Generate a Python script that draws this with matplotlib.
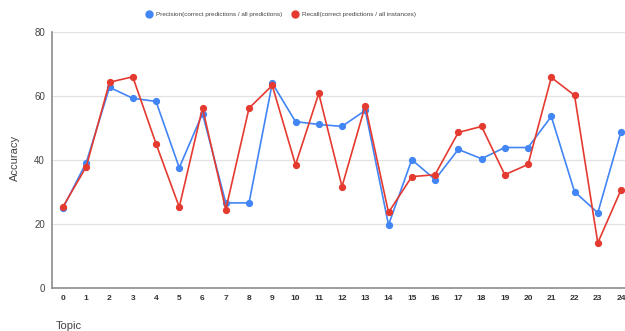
import matplotlib
matplotlib.use("Agg")
import matplotlib.pyplot as plt
from matplotlib.lines import Line2D

plt.rcParams['font.family'] = ['Liberation Sans', 'DejaVu Sans']

topics = list(range(25))
precision = [25.0, 39.2, 62.7, 59.3, 58.3, 37.6, 54.5, 26.6, 26.6, 64.0,
             52.0, 51.1, 50.5, 55.5, 19.7, 40.1, 33.9, 43.3, 40.4, 43.9,
             43.9, 53.6, 30.1, 23.5, 48.9]
recall = [25.4, 37.9, 64.3, 66.0, 45.1, 25.3, 56.3, 24.5, 56.2, 63.3,
          38.5, 60.8, 31.7, 57.0, 23.6, 34.8, 35.4, 48.6, 50.5, 35.4,
          38.6, 65.8, 60.2, 14.1, 30.7]
y_ticks = [0, 20, 40, 60, 80]

blue = '#4285F4'
red = '#E53A30'

W, H = 625, 331
fig = plt.figure(figsize=(W / 100, H / 100), dpi=100)
ax = fig.add_axes([52 / W, 43 / H, 1 - 52 / W, 256 / H])

ax.plot(topics, precision, color=blue, lw=1.2, marker='o', ms=4.2, zorder=3)
ax.plot(topics, recall, color=red, lw=1.2, marker='o', ms=4.2, zorder=4)

ax.set_xlim(-0.473, 24.17)
ax.set_ylim(0, 80)
ax.set_yticks(y_ticks)
ax.set_xticks(topics)
ax.set_xticklabels([str(t) for t in topics], fontsize=6, fontweight='bold', color='#333333')
ax.set_yticklabels([str(v) for v in y_ticks], fontsize=7, color='#444444')
ax.tick_params(axis='x', length=0, pad=5)
ax.tick_params(axis='y', length=0, pad=5)

ax.grid(axis='y', color='#e2e2e2', lw=0.9)
ax.set_axisbelow(True)
for s in ['top', 'right']:
    ax.spines[s].set_visible(False)
for s in ['left', 'bottom']:
    ax.spines[s].set_color('#8c8c8c')
    ax.spines[s].set_linewidth(1.2)

fig.text(15 / W, 1 - 158 / H, 'Accuracy', fontsize=8, color='#444444',
         rotation=90, ha='center', va='center')
fig.text(56 / W, 1 - 326 / H, 'Topic', fontsize=8, color='#444444',
         ha='left', va='center')

handles = [
    Line2D([], [], ls='none', marker='o', ms=5.0, color=blue),
    Line2D([], [], ls='none', marker='o', ms=5.0, color=red),
]
labels = ['Precision(correct predictions / all predictions)',
          'Recall(correct predictions / all instances)']
fig.legend(handles, labels, loc='center', bbox_to_anchor=(281 / W, 1 - 14 / H),
           ncol=2, frameon=False, fontsize=4.6, labelcolor='#444444',
           handletextpad=0.7, columnspacing=1.6, handlelength=0.8)

fig.savefig('out.png', dpi=100)
